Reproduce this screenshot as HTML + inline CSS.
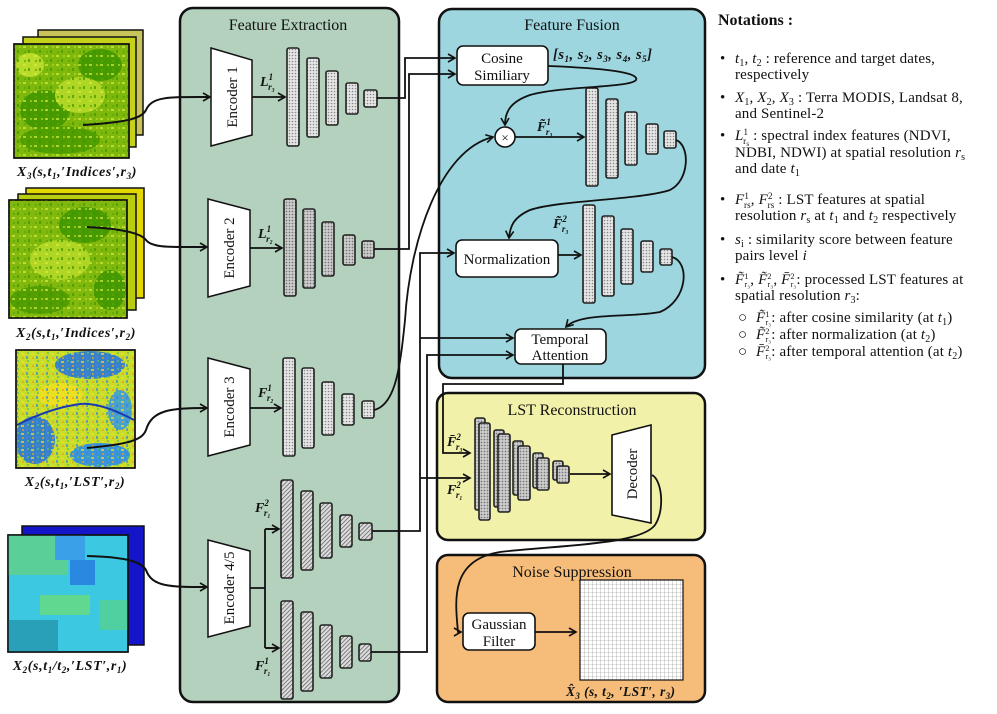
<!DOCTYPE html>
<html><head><meta charset="utf-8"><style>
html,body{margin:0;padding:0;background:#fff;}
svg{display:block;font-family:"Liberation Serif",serif;}
</style></head><body>
<svg width="997" height="714" viewBox="0 0 997 714" xmlns="http://www.w3.org/2000/svg">
<defs>
<pattern id="dots" width="3" height="3" patternUnits="userSpaceOnUse"><rect width="3" height="3" fill="#e6e6e6"/><circle cx="1.5" cy="1.5" r="0.8" fill="#888"/></pattern>
<pattern id="dots2" width="3" height="3" patternUnits="userSpaceOnUse"><rect width="3" height="3" fill="#cfcfcf"/><circle cx="1.5" cy="1.5" r="0.9" fill="#777"/></pattern>
<pattern id="hatch" width="3" height="3" patternUnits="userSpaceOnUse" patternTransform="rotate(45)"><rect width="3" height="3" fill="#ddd"/><line x1="0" y1="0" x2="0" y2="3" stroke="#555" stroke-width="1.4"/></pattern>
<pattern id="grid" width="4" height="4" patternUnits="userSpaceOnUse"><rect width="4" height="4" fill="#fff"/><path d="M0 0H4M0 0V4" stroke="#888" stroke-width="0.6"/></pattern>
<pattern id="spk" width="11" height="9" patternUnits="userSpaceOnUse"><rect x="1" y="1" width="3" height="2" fill="#d6ea40"/><rect x="6" y="5" width="2" height="3" fill="#3f9500"/><rect x="8" y="1" width="2" height="2" fill="#b0d820"/><rect x="2" y="6" width="2" height="2" fill="#5aa800"/></pattern>
<pattern id="spk2" width="10" height="8" patternUnits="userSpaceOnUse"><rect x="1" y="1" width="3" height="2" fill="#f0e020"/><rect x="6" y="4" width="2" height="3" fill="#3a88e0"/><rect x="7" y="0" width="2" height="2" fill="#60c060"/><rect x="2" y="5" width="2" height="2" fill="#e8a020"/></pattern>
<marker id="ar" markerWidth="10" markerHeight="10" refX="8" refY="5" orient="auto" markerUnits="userSpaceOnUse"><path d="M1 1 L8 5 L1 9" fill="none" stroke="#111" stroke-width="1.6"/></marker>
</defs>

<!-- panels -->
<rect x="180" y="8" width="219" height="694" rx="13" fill="#b3d1bc" stroke="#111" stroke-width="2.5"/>
<rect x="439" y="9" width="266" height="369" rx="13" fill="#9dd6df" stroke="#111" stroke-width="2.5"/>
<rect x="437" y="393" width="268" height="147" rx="11" fill="#f1f1a9" stroke="#111" stroke-width="2.5"/>
<rect x="437" y="555" width="268" height="147" rx="11" fill="#f6bc79" stroke="#111" stroke-width="2.5"/>
<g font-size="16" text-anchor="middle" fill="#111">
<text x="288" y="30">Feature Extraction</text>
<text x="572" y="30">Feature Fusion</text>
<text x="572" y="415">LST Reconstruction</text>
<text x="572" y="577">Noise Suppression</text>
</g>

<!-- images -->
<g stroke="#111" stroke-width="1.5">
<rect x="38" y="30" width="105" height="105" fill="#c9c45a"/>
<rect x="23" y="37" width="113" height="110" fill="#c6d21a"/>
<rect x="14" y="44" width="115" height="114" fill="#7fb80d"/>
</g>
<g opacity="0.85">
<ellipse cx="45" cy="110" rx="25" ry="20" fill="#3f9500"/>
<ellipse cx="100" cy="65" rx="22" ry="16" fill="#3f9500"/>
<ellipse cx="60" cy="140" rx="40" ry="14" fill="#4a9a00"/>
<ellipse cx="80" cy="95" rx="25" ry="18" fill="#b8dc2a"/>
<ellipse cx="30" cy="65" rx="14" ry="12" fill="#c4e230"/>
</g>
<rect x="14" y="44" width="115" height="114" fill="url(#spk)" opacity="0.7"/>
<rect x="14" y="44" width="115" height="114" fill="none" stroke="#111" stroke-width="1.5"/>
<g stroke="#111" stroke-width="1.5">
<rect x="26" y="188" width="118" height="110" fill="#e2d800"/>
<rect x="18" y="194" width="118" height="116" fill="#b8cc10"/>
<rect x="9" y="200" width="118" height="118" fill="#80b80e"/>
</g>
<g opacity="0.85">
<ellipse cx="85" cy="225" rx="26" ry="18" fill="#3f9500"/>
<ellipse cx="40" cy="300" rx="30" ry="14" fill="#4a9a00"/>
<ellipse cx="60" cy="260" rx="30" ry="20" fill="#b8dc2a"/>
<ellipse cx="110" cy="290" rx="16" ry="20" fill="#3f9500"/>
</g>
<rect x="9" y="200" width="118" height="118" fill="url(#spk)" opacity="0.7"/>
<rect x="9" y="200" width="118" height="118" fill="none" stroke="#111" stroke-width="1.5"/>
<rect x="16" y="350" width="119" height="118" fill="#c8dc2a" stroke="#111" stroke-width="1.5"/>
<g opacity="0.9">
<ellipse cx="90" cy="365" rx="35" ry="14" fill="#2a78d8"/>
<ellipse cx="35" cy="440" rx="20" ry="24" fill="#2a78d8"/>
<ellipse cx="100" cy="455" rx="30" ry="12" fill="#2a8ee8"/>
<ellipse cx="120" cy="410" rx="12" ry="20" fill="#3a9ae0"/>
<ellipse cx="60" cy="395" rx="22" ry="12" fill="#f0e020"/>
</g>
<rect x="16" y="350" width="119" height="118" fill="url(#spk2)" opacity="0.7"/>
<path d="M17 425 Q50 408 80 404 Q100 402 134 420" fill="none" stroke="#1a3ab0" stroke-width="2"/>
<rect x="16" y="350" width="119" height="118" fill="none" stroke="#111" stroke-width="1.5"/>
<rect x="22" y="526" width="122" height="119" fill="#1414c8" stroke="#111" stroke-width="1.5"/>
<rect x="8" y="535" width="120" height="117" fill="#3cc8e0" stroke="#111" stroke-width="1.5"/>
<g>
<rect x="8" y="535" width="60" height="40" fill="#5ad098"/>
<rect x="55" y="535" width="30" height="25" fill="#3aa0e8"/>
<rect x="70" y="560" width="25" height="25" fill="#2a88e0"/>
<rect x="40" y="595" width="50" height="20" fill="#60d890"/>
<rect x="8" y="620" width="50" height="32" fill="#2aa0b8"/>
<rect x="100" y="600" width="28" height="30" fill="#50d0a0"/>
</g>
<rect x="8" y="535" width="120" height="117" fill="none" stroke="#111" stroke-width="1.5"/>

<g font-size="14" font-style="italic" font-weight="bold" fill="#111" text-anchor="middle" letter-spacing="0.6">
<text x="77" y="176">X<tspan font-size="9" dy="3">3</tspan><tspan dy="-3">(s,t</tspan><tspan font-size="9" dy="3">1</tspan><tspan dy="-3">,′Indices′,r</tspan><tspan font-size="9" dy="3">3</tspan><tspan dy="-3">)</tspan></text>
<text x="76" y="337">X<tspan font-size="9" dy="3">2</tspan><tspan dy="-3">(s,t</tspan><tspan font-size="9" dy="3">1</tspan><tspan dy="-3">,′Indices′,r</tspan><tspan font-size="9" dy="3">2</tspan><tspan dy="-3">)</tspan></text>
<text x="75" y="486">X<tspan font-size="9" dy="3">2</tspan><tspan dy="-3">(s,t</tspan><tspan font-size="9" dy="3">1</tspan><tspan dy="-3">,′LST′,r</tspan><tspan font-size="9" dy="3">2</tspan><tspan dy="-3">)</tspan></text>
<text x="70" y="670">X<tspan font-size="9" dy="3">2</tspan><tspan dy="-3">(s,t</tspan><tspan font-size="9" dy="3">1</tspan><tspan dy="-3">/t</tspan><tspan font-size="9" dy="3">2</tspan><tspan dy="-3">,′LST′,r</tspan><tspan font-size="9" dy="3">1</tspan><tspan dy="-3">)</tspan></text>
</g>

<!-- image to encoder curves -->
<g fill="none" stroke="#111" stroke-width="2">
<path d="M83 125 C130 122 142 118 146 110 C152 96 170 97 210 97" marker-end="url(#ar)"/>
<path d="M87 227 C130 229 142 235 146 240 C152 248 170 247 207 247" marker-end="url(#ar)"/>
<path d="M87 448 C130 444 142 440 146 430 C152 410 170 408 207 408" marker-end="url(#ar)"/>
<path d="M87 556 C130 557 142 563 146 570 C152 587 170 587 207 587" marker-end="url(#ar)"/>
</g>

<!-- encoders -->
<g fill="#fff" stroke="#111" stroke-width="1.5">
<path d="M211 48 L252 60 L252 135 L211 146 Z"/>
<path d="M208 199 L250 210 L250 286 L208 297 Z"/>
<path d="M208 358 L250 369 L250 445 L208 456 Z"/>
<path d="M208 540 L250 551 L250 626 L208 637 Z"/>
</g>
<g font-size="15" fill="#111" text-anchor="middle">
<text transform="translate(237 97) rotate(-90)">Encoder 1</text>
<text transform="translate(234 248) rotate(-90)">Encoder 2</text>
<text transform="translate(234 407) rotate(-90)">Encoder 3</text>
<text transform="translate(234 588) rotate(-90)">Encoder 4/5</text>
</g>

<!-- encoder->bars arrows -->
<g fill="none" stroke="#111" stroke-width="1.8">
<path d="M252 97 H285" marker-end="url(#ar)"/>
<path d="M250 248 H282" marker-end="url(#ar)"/>
<path d="M250 408 H281" marker-end="url(#ar)"/>
<path d="M250 588 H265 M265 529 V648 M265 529 H279 M265 648 H279"/>
<path d="M266 529 H279" marker-end="url(#ar)"/>
<path d="M266 648 H279" marker-end="url(#ar)"/>
</g>

<!-- feature bars -->
<g stroke="#222" stroke-width="1.6">
<g fill="url(#dots)">
<rect x="287" y="48" width="12" height="98" rx="2"/><rect x="307" y="58" width="12" height="79" rx="2"/><rect x="326" y="71" width="12" height="54" rx="2"/><rect x="346" y="83" width="12" height="31" rx="2"/><rect x="364" y="90" width="13" height="17" rx="2"/>
</g>
<g fill="url(#dots2)">
<rect x="284" y="199" width="12" height="97" rx="2"/><rect x="303" y="209" width="12" height="79" rx="2"/><rect x="322" y="222" width="12" height="54" rx="2"/><rect x="343" y="235" width="12" height="30" rx="2"/><rect x="362" y="241" width="12" height="17" rx="2"/>
</g>
<g fill="url(#dots)">
<rect x="283" y="358" width="12" height="98" rx="2"/><rect x="302" y="368" width="12" height="80" rx="2"/><rect x="322" y="382" width="12" height="53" rx="2"/><rect x="342" y="394" width="12" height="31" rx="2"/><rect x="362" y="401" width="12" height="17" rx="2"/>
</g>
<g fill="url(#hatch)">
<rect x="281" y="480" width="12" height="98" rx="2"/><rect x="301" y="491" width="12" height="79" rx="2"/><rect x="320" y="503" width="12" height="55" rx="2"/><rect x="340" y="515" width="12" height="32" rx="2"/><rect x="359" y="523" width="13" height="17" rx="2"/>
<rect x="281" y="601" width="12" height="98" rx="2"/><rect x="301" y="612" width="12" height="79" rx="2"/><rect x="320" y="625" width="12" height="53" rx="2"/><rect x="340" y="636" width="12" height="32" rx="2"/><rect x="359" y="644" width="12" height="17" rx="2"/>
</g>
<g fill="url(#dots)">
<rect x="586" y="88" width="12" height="98" rx="2"/><rect x="606" y="99" width="12" height="79" rx="2"/><rect x="625" y="112" width="12" height="53" rx="2"/><rect x="646" y="124" width="12" height="30" rx="2"/><rect x="664" y="131" width="12" height="17" rx="2"/>
<rect x="583" y="205" width="12" height="98" rx="2"/><rect x="602" y="216" width="12" height="80" rx="2"/><rect x="621" y="229" width="12" height="55" rx="2"/><rect x="641" y="241" width="12" height="31" rx="2"/><rect x="660" y="249" width="12" height="16" rx="2"/>
</g>
<g fill="url(#dots2)">
<rect x="475" y="418" width="10" height="92" rx="2"/><rect x="479" y="423" width="11" height="97" rx="2"/>
<rect x="494" y="430" width="10" height="77" rx="2"/><rect x="498" y="434" width="12" height="78" rx="2"/>
<rect x="513" y="441" width="10" height="54" rx="2"/><rect x="518" y="446" width="12" height="54" rx="2"/>
<rect x="533" y="453" width="10" height="35" rx="2"/><rect x="537" y="458" width="12" height="32" rx="2"/>
<rect x="553" y="461" width="10" height="19" rx="2"/><rect x="557" y="466" width="12" height="17" rx="2"/>
</g>
</g>

<!-- labels near bars -->
<g font-size="14" font-style="italic" font-weight="bold" fill="#111">
<text x="260" y="86">L<tspan font-size="9" dy="-6">1</tspan><tspan font-size="9" dx="-5" dy="10">r₃</tspan></text>
<text x="258" y="238">L<tspan font-size="9" dy="-6">1</tspan><tspan font-size="9" dx="-5" dy="10">r₂</tspan></text>
<text x="258" y="397">F<tspan font-size="9" dy="-6">1</tspan><tspan font-size="9" dx="-5" dy="10">r₂</tspan></text>
<text x="255" y="512">F<tspan font-size="9" dy="-6">2</tspan><tspan font-size="9" dx="-5" dy="10">r₁</tspan></text>
<text x="255" y="670">F<tspan font-size="9" dy="-6">1</tspan><tspan font-size="9" dx="-5" dy="10">r₁</tspan></text>
<text x="537" y="131">F̃<tspan font-size="9" dy="-6">1</tspan><tspan font-size="9" dx="-5" dy="10">r₃</tspan></text>
<text x="553" y="228">F̃<tspan font-size="9" dy="-6">2</tspan><tspan font-size="9" dx="-5" dy="10">r₃</tspan></text>
<text x="447" y="446">F̄<tspan font-size="9" dy="-6">2</tspan><tspan font-size="9" dx="-5" dy="10">r₃</tspan></text>
<text x="447" y="494">F<tspan font-size="9" dy="-6">2</tspan><tspan font-size="9" dx="-5" dy="10">r₁</tspan></text>
<text x="553" y="59" font-size="14.5" letter-spacing="0.5">[s<tspan font-size="9" dy="3">1</tspan><tspan dy="-3">, s</tspan><tspan font-size="9" dy="3">2</tspan><tspan dy="-3">, s</tspan><tspan font-size="9" dy="3">3</tspan><tspan dy="-3">, s</tspan><tspan font-size="9" dy="3">4</tspan><tspan dy="-3">, s</tspan><tspan font-size="9" dy="3">5</tspan><tspan dy="-3">]</tspan></text>
<text x="566" y="696" font-size="13.5" letter-spacing="0.4">X̂<tspan font-size="9" dy="3">3</tspan><tspan dy="-3"> (s, t</tspan><tspan font-size="9" dy="3">2</tspan><tspan dy="-3">, ′LST′, r</tspan><tspan font-size="9" dy="3">3</tspan><tspan dy="-3">)</tspan></text>
</g>

<!-- fusion boxes -->
<g fill="#fff" stroke="#111" stroke-width="1.6">
<rect x="457" y="46" width="91" height="39" rx="6"/>
<rect x="456" y="240" width="102" height="37" rx="6"/>
<rect x="515" y="329" width="91" height="35" rx="6"/>
<rect x="463" y="613" width="72" height="37" rx="6"/>
<circle cx="505" cy="137" r="10"/>
<path d="M612 435 L651 425 L651 523 L612 515 Z"/>
</g>
<g font-size="15" fill="#111" text-anchor="middle">
<text x="502" y="63">Cosine</text><text x="502" y="80">Similiary</text>
<text x="507" y="264">Normalization</text>
<text x="560" y="344">Temporal</text><text x="560" y="360">Attention</text>
<text x="499" y="629">Gaussian</text><text x="499" y="646">Filter</text>
<text x="505" y="142" font-size="13">×</text>
<text transform="translate(637 474) rotate(-90)">Decoder</text>
</g>
<rect x="580" y="580" width="103" height="100" fill="url(#grid)" stroke="#111" stroke-width="1.2"/>

<!-- connectors -->
<g fill="none" stroke="#111" stroke-width="1.8">
<path d="M377 98 H405 V58 H455" marker-end="url(#ar)"/>
<path d="M374 249 H409 V74 H455" marker-end="url(#ar)"/>
<path d="M374 410 C395 405 400 370 405 320 C410 240 440 150 493 137" marker-end="url(#ar)"/>
<path d="M372 531 H420 V253 H454" marker-end="url(#ar)"/>
<path d="M420 338 H513" marker-end="url(#ar)"/>
<path d="M420 478 H470" marker-end="url(#ar)"/>
<path d="M371 652 H427 V355 H513" marker-end="url(#ar)"/>
<path d="M563 364 V384 H443 V453 H470" marker-end="url(#ar)"/>
<path d="M548 66 C600 68 640 72 636 80 C630 88 560 86 530 95 C510 102 505 112 505 125" marker-end="url(#ar)"/>
<path d="M515 137 H584" marker-end="url(#ar)"/>
<path d="M676 140 C690 145 690 180 670 190 C640 200 560 200 530 210 C512 218 510 228 509 238" marker-end="url(#ar)"/>
<path d="M558 255 H581" marker-end="url(#ar)"/>
<path d="M672 257 C690 262 688 300 660 312 C630 318 580 312 566 327" marker-end="url(#ar)"/>
<path d="M570 474 H610" marker-end="url(#ar)"/>
<path d="M652 475 C662 480 665 510 655 525 C640 545 560 545 500 552 C450 560 455 600 458 632 L461 632" marker-end="url(#ar)"/>
<path d="M535 632 H576" marker-end="url(#ar)"/>
</g>

<!-- notations -->
<g font-size="15" fill="#111">
<text x="718" y="25" font-weight="bold" font-size="16">Notations :</text>
<g font-size="15" letter-spacing="0.15">
<text x="720" y="63">•</text><text x="735" y="63"><tspan font-style="italic">t</tspan><tspan font-size="10" dy="3">1</tspan><tspan dy="-3">, </tspan><tspan font-style="italic">t</tspan><tspan font-size="10" dy="3">2</tspan><tspan dy="-3"> : reference and target dates,</tspan></text>
<text x="735" y="79">respectively</text>
<text x="720" y="102">•</text><text x="735" y="102"><tspan font-style="italic">X</tspan><tspan font-size="10" dy="3">1</tspan><tspan dy="-3">, </tspan><tspan font-style="italic">X</tspan><tspan font-size="10" dy="3">2</tspan><tspan dy="-3">, </tspan><tspan font-style="italic">X</tspan><tspan font-size="10" dy="3">3</tspan><tspan dy="-3"> : Terra MODIS, Landsat 8,</tspan></text>
<text x="735" y="118">and Sentinel-2</text>
<text x="720" y="140">•</text><text x="735" y="140"><tspan font-style="italic">L</tspan><tspan font-size="9" dy="-5">1</tspan><tspan font-size="9" dx="-5" dy="9">r</tspan><tspan font-size="7" dy="2">s</tspan><tspan dy="-6"> : spectral index features (NDVI,</tspan></text>
<text x="735" y="157">NDBI, NDWI) at spatial resolution <tspan font-style="italic">r</tspan><tspan font-size="10" dy="3">s</tspan></text>
<text x="735" y="173">and date <tspan font-style="italic">t</tspan><tspan font-size="10" dy="3">1</tspan></text>
<text x="720" y="204">•</text><text x="735" y="204"><tspan font-style="italic">F</tspan><tspan font-size="9" dy="-5">1</tspan><tspan font-size="9" dx="-5" dy="9">rs</tspan><tspan dy="-4">, </tspan><tspan font-style="italic">F</tspan><tspan font-size="9" dy="-5">2</tspan><tspan font-size="9" dx="-5" dy="9">rs</tspan><tspan dy="-4"> : LST features at spatial</tspan></text>
<text x="735" y="220">resolution <tspan font-style="italic">r</tspan><tspan font-size="10" dy="3">s</tspan><tspan dy="-3"> at </tspan><tspan font-style="italic">t</tspan><tspan font-size="10" dy="3">1</tspan><tspan dy="-3"> and </tspan><tspan font-style="italic">t</tspan><tspan font-size="10" dy="3">2</tspan><tspan dy="-3"> respectively</tspan></text>
<text x="720" y="244">•</text><text x="735" y="244"><tspan font-style="italic">s</tspan><tspan font-size="10" dy="3">i</tspan><tspan dy="-3"> : similarity score between feature</tspan></text>
<text x="735" y="260">pairs level <tspan font-style="italic">i</tspan></text>
<text x="720" y="284">•</text><text x="735" y="284"><tspan font-style="italic">F̃</tspan><tspan font-size="8" dy="-5">1</tspan><tspan font-size="8" dx="-4" dy="8">r₃</tspan><tspan dy="-3">, </tspan><tspan font-style="italic">F̃</tspan><tspan font-size="8" dy="-5">2</tspan><tspan font-size="8" dx="-4" dy="8">r₃</tspan><tspan dy="-3">, </tspan><tspan font-style="italic">F̄</tspan><tspan font-size="8" dy="-5">2</tspan><tspan font-size="8" dx="-4" dy="8">r₃</tspan><tspan dy="-3">: processed LST features at</tspan></text>
<text x="735" y="300">spatial resolution <tspan font-style="italic">r</tspan><tspan font-size="10" dy="3">3</tspan><tspan dy="-3">:</tspan></text>
<text x="738" y="322">○</text><text x="756" y="322"><tspan font-style="italic">F̃</tspan><tspan font-size="8" dy="-5">1</tspan><tspan font-size="8" dx="-4" dy="8">r₃</tspan><tspan dy="-3">: after cosine similarity (at </tspan><tspan font-style="italic">t</tspan><tspan font-size="10" dy="3">1</tspan><tspan dy="-3">)</tspan></text>
<text x="738" y="339">○</text><text x="756" y="339"><tspan font-style="italic">F̃</tspan><tspan font-size="8" dy="-5">2</tspan><tspan font-size="8" dx="-4" dy="8">r₃</tspan><tspan dy="-3">: after normalization (at </tspan><tspan font-style="italic">t</tspan><tspan font-size="10" dy="3">2</tspan><tspan dy="-3">)</tspan></text>
<text x="738" y="356">○</text><text x="756" y="356"><tspan font-style="italic">F̄</tspan><tspan font-size="8" dy="-5">2</tspan><tspan font-size="8" dx="-4" dy="8">r₃</tspan><tspan dy="-3">: after temporal attention (at </tspan><tspan font-style="italic">t</tspan><tspan font-size="10" dy="3">2</tspan><tspan dy="-3">)</tspan></text>
</g>
</g>
</svg>
</body></html>
